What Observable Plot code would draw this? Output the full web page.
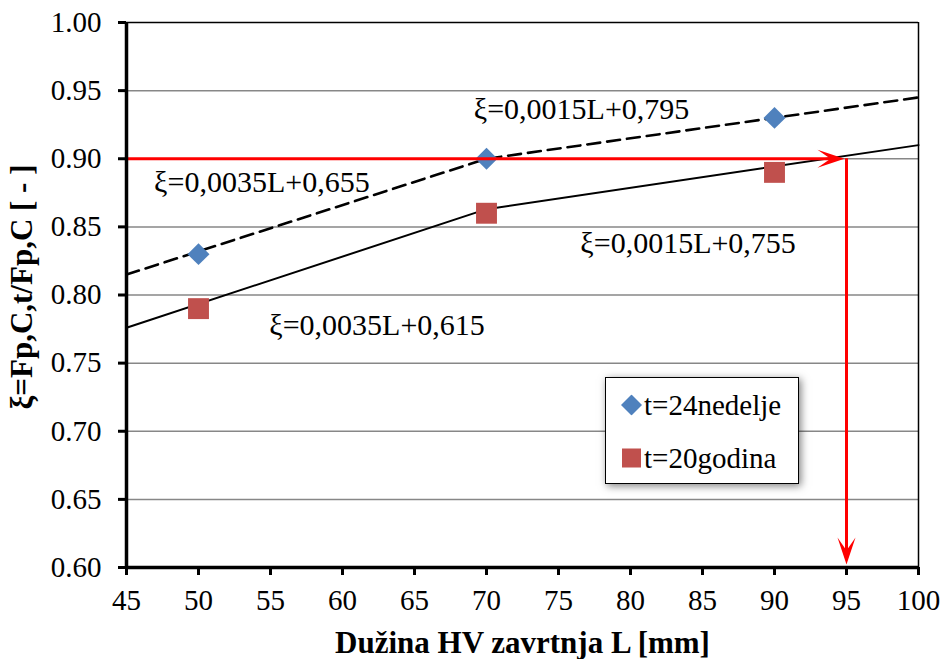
<!DOCTYPE html>
<html>
<head>
<meta charset="utf-8">
<script src="https://cdn.jsdelivr.net/npm/d3@7"></script>
<script src="https://cdn.jsdelivr.net/npm/@observablehq/plot@0.6"></script>
</head>
<body style="margin:0;padding:0;background:white">
<div id="wrap" style="position:relative;width:943px;height:659px;font-family:'Liberation Serif';"></div>
<script>
// ---- data ----
const boltLength = [50, 70, 90];
const xi24weeks = [0.83, 0.90, 0.93];
const xi20years = [0.79, 0.86, 0.89];

const dashedL = [45, 70, 100];
const dashedXi = [0.815, 0.90, 0.945];
const solidL = [45, 70, 100];
const solidXi = [0.776, 0.863, 0.91];

const annText = ["ξ=0,0015L+0,795", "ξ=0,0035L+0,655", "ξ=0,0015L+0,755", "ξ=0,0035L+0,615"];
const annL = [76.6, 54.4, 84.0, 62.4];
const annXi = [0.936, 0.883, 0.838, 0.778];

const arrowStartL = 45;
const arrowTargetXi = 0.90;
const arrowTargetL = 95;
const arrowEndXi = 0.60;

const xTicks = [45, 50, 55, 60, 65, 70, 75, 80, 85, 90, 95, 100];
const yTicks = [0.60, 0.65, 0.70, 0.75, 0.80, 0.85, 0.90, 0.95, 1.00];

const seriesNames = ["t=24nedelje", "t=20godina"];
const xLabel = "Dužina HV zavrtnja L [mm]";
const yLabel = "ξ=Fp,C,t/Fp,C [ - ]";

// ---- build ----
const pts24 = boltLength.map((L, i) => ({L, xi: xi24weeks[i]}));
const pts20 = boltLength.map((L, i) => ({L, xi: xi20years[i]}));
const dashed = dashedL.map((L, i) => ({L, xi: dashedXi[i]}));
const solid = solidL.map((L, i) => ({L, xi: solidXi[i]}));
const ann = annText.map((t, i) => ({t, L: annL[i], xi: annXi[i]}));

const arrowRight = { draw(ctx) { ctx.moveTo(0, 0); ctx.lineTo(-27, -9); ctx.lineTo(-14, 0); ctx.lineTo(-27, 9); ctx.closePath(); } };
const arrowDown = { draw(ctx) { ctx.moveTo(0, 0); ctx.lineTo(-9, -27); ctx.lineTo(0, -14); ctx.lineTo(9, -27); ctx.closePath(); } };

const FF = "Liberation Serif";
const FS_TICK = 29, FS_ANN = 30, FS_LABEL = 31, FS_LEG = 29;

const chart = Plot.plot({
  width: 943, height: 659,
  marginLeft: 126, marginRight: 25, marginTop: 22, marginBottom: 92,
  x: {domain: [45, 100]},
  y: {domain: [0.6, 1.0]},
  style: `font-family: '${FF}', serif; font-size: ${FS_TICK}px; color: black; background: white; overflow: visible;`,
  marks: [
    Plot.ruleY(yTicks.filter(v => v > 0.6 && v < 1.0), {stroke: "#878787", strokeWidth: 1.5}),
    Plot.ruleY([1.0], {stroke: "black", strokeWidth: 1.5}),
    Plot.ruleX([100], {stroke: "black", strokeWidth: 1.5}),
    Plot.line(dashed, {x: "L", y: "xi", stroke: "black", strokeWidth: 2.6, strokeDasharray: "13,7"}),
    Plot.line(solid, {x: "L", y: "xi", stroke: "black", strokeWidth: 2}),
    Plot.dot(pts24, {x: "L", y: "xi", symbol: "diamond2", r: 9.9, fill: "#4F81BD", stroke: "none"}),
    Plot.dot(pts20, {x: "L", y: "xi", symbol: "square", r: 11.8, fill: "#C0504D", stroke: "none"}),
    Plot.ruleY([arrowTargetXi], {x1: arrowStartL, x2: arrowTargetL, stroke: "#ff0000", strokeWidth: 3, insetRight: 8}),
    Plot.ruleX([arrowTargetL], {y1: arrowTargetXi, y2: arrowEndXi, stroke: "#ff0000", strokeWidth: 3, insetBottom: 8}),
    Plot.dot([{L: arrowTargetL, xi: arrowTargetXi}], {x: "L", y: "xi", symbol: arrowRight, fill: "#ff0000", stroke: "none", dx: -2}),
    Plot.dot([{L: arrowTargetL, xi: arrowEndXi}], {x: "L", y: "xi", symbol: arrowDown, fill: "#ff0000", stroke: "none", dy: -3}),
    Plot.text(ann, {x: "L", y: "xi", text: "t", fontSize: FS_ANN, fontFamily: FF, fill: "black"}),
    Plot.ruleX([45], {stroke: "black", strokeWidth: 3.5}),
    Plot.ruleY([0.6], {stroke: "black", strokeWidth: 3.5}),
    Plot.axisY({ticks: yTicks, tickFormat: ".2f", tickSize: 8, strokeWidth: 3, tickPadding: 17, label: null, fontSize: FS_TICK, fontFamily: FF}),
    Plot.axisX({ticks: xTicks, tickSize: 8, strokeWidth: 3, tickPadding: 14, label: null, fontSize: FS_TICK, fontFamily: FF}),
    Plot.text([xLabel], {frameAnchor: "bottom", lineAnchor: "middle", textAnchor: "middle", dy: 76, fontWeight: "bold", fontSize: FS_LABEL, fontFamily: FF, text: d => d}),
    Plot.text([yLabel], {frameAnchor: "left", lineAnchor: "middle", textAnchor: "middle", rotate: -90, dx: -104, dy: -8, fontWeight: "bold", fontSize: FS_LABEL, fontFamily: FF, text: d => d})
  ]
});

const wrap = document.getElementById("wrap");
wrap.appendChild(chart);

const legend = document.createElement("div");
legend.setAttribute("style", "position:absolute;left:605px;top:377px;width:194px;height:107px;border:1.5px solid black;background:white;box-shadow:2px 2px 8px rgba(0,0,0,0.5);box-sizing:border-box;font-family:'Liberation Serif';font-size:" + FS_LEG + "px;line-height:1;");
const items = [
  {name: seriesNames[0], color: "#4F81BD", shape: "diamond", top: 27},
  {name: seriesNames[1], color: "#C0504D", shape: "square", top: 80}
];
for (const it of items) {
  const d = document.createElement("div");
  d.setAttribute("style", `position:absolute;left:15px;top:${it.top}px;transform:translateY(-50%);display:flex;align-items:center;white-space:nowrap;font-family:'Liberation Serif';`);
  const sym = it.shape === "diamond"
    ? `<svg width="21" height="21" style="margin-right:2px;flex:none"><path d="M10.5,0L21,10.5L10.5,21L0,10.5Z" fill="${it.color}"/></svg>`
    : `<svg width="21" height="21" style="margin-right:2px;flex:none"><rect x="1" y="1" width="19" height="19" fill="${it.color}"/></svg>`;
  d.innerHTML = sym + `<span>${it.name}</span>`;
  legend.appendChild(d);
}
wrap.appendChild(legend);
</script>
</body>
</html>
